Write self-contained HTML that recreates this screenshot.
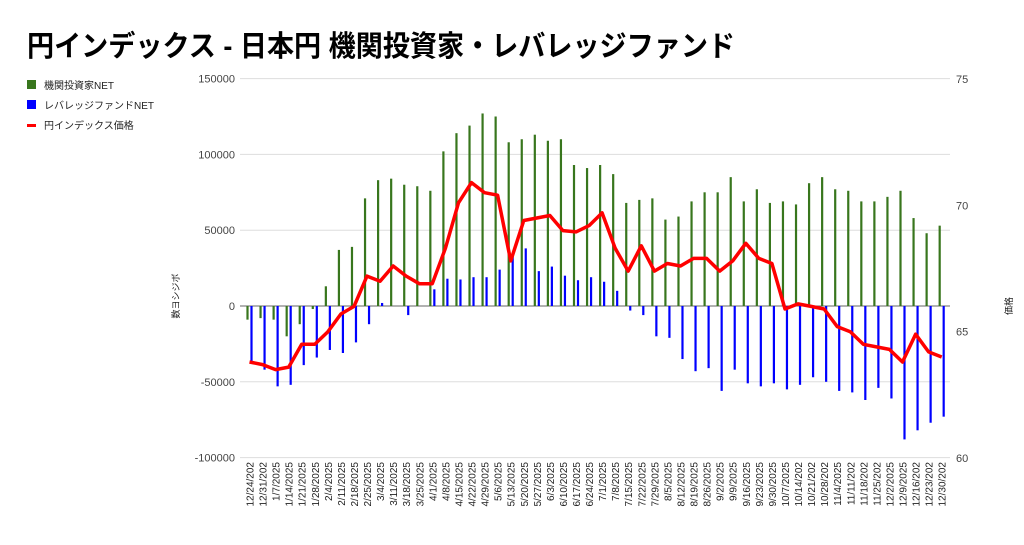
<!DOCTYPE html>
<html><head><meta charset="utf-8"><style>
body{margin:0;background:#fff;width:1024px;height:540px;overflow:hidden}
svg text{font-family:"Liberation Sans","Noto Sans CJK JP",sans-serif}
</style></head><body>
<svg id="c" width="1024" height="540" xmlns="http://www.w3.org/2000/svg">
<text x="27" y="56" font-size="29" font-weight="bold" fill="#000" textLength="708" lengthAdjust="spacingAndGlyphs">円インデックス - 日本円 機関投資家・レバレッジファンド</text>
<rect x="27" y="80" width="9" height="9" fill="#38761d"/>
<text x="44" y="89" font-size="10" fill="#222">機関投資家NET</text>
<rect x="27" y="100" width="9" height="9" fill="#0000ff"/>
<text x="44" y="109" font-size="10" fill="#222">レバレッジファンドNET</text>
<rect x="27" y="124" width="9" height="3" fill="#ff0000"/>
<text x="44" y="129" font-size="10" fill="#222">円インデックス価格</text>
<text transform="translate(179,296) rotate(-90)" font-size="9" fill="#222" text-anchor="middle">数ヨシジボ</text>
<text transform="translate(1012,306) rotate(-90)" font-size="9" fill="#222" text-anchor="middle">価格</text>
<g id="g"></g>
</svg>
<script>
var g=document.getElementById('g'),h='';
function y1(v){return 306-v*0.001516}
function y2(v){return 79+(75-v)*25.27}
[150000,100000,50000,0,-50000,-100000].forEach(function(v){var y=y1(v);
h+='<line x1="240" x2="950" y1="'+y+'" y2="'+y+'" stroke="'+(v==0?'#666':'#ddd')+'" stroke-width="1"/>';
h+='<text x="235" y="'+(y+4)+'" font-size="11" fill="#444" text-anchor="end">'+v+'</text>';});
[75,70,65,60].forEach(function(v){h+='<text x="956" y="'+(y2(v)+4)+'" font-size="11" fill="#444">'+v+'</text>';});
var G=[-9,-8,-9,-20,-12,-2,13,37,39,71,83,84,80,79,76,102,114,119,127,125,108,110,113,109,110,93,91,93,87,68,70,71,57,59,69,75,75,85,69,77,68,69,67,81,85,77,76,69,69,72,76,58,48,53];
var B=[-38,-42,-53,-52,-39,-34,-29,-31,-24,-12,2,0,-6,0,11,18,17.5,19,19,24,33,38,23,26,20,17,19,16,10,-3,-6,-20,-21,-35,-43,-41,-56,-42,-51,-53,-51,-55,-52,-47,-50,-56,-57,-62,-54,-61,-88,-82,-77,-73];
var R=[63.8,63.7,63.5,63.6,64.5,64.5,65.0,65.7,66.0,67.2,67.0,67.6,67.2,66.9,66.9,68.3,70.1,70.9,70.5,70.4,67.8,69.4,69.5,69.6,69.0,68.95,69.2,69.7,68.3,67.4,68.4,67.4,67.7,67.6,67.9,67.9,67.4,67.8,68.5,67.9,67.7,65.9,66.1,66.0,65.9,65.2,65.0,64.5,64.4,64.3,63.8,64.9,64.2,64.0];
var pts=[],d=new Date(2024,11,24);
function bar(bx,v,c){var a=y1(v*1000),b=y1(0);h+='<rect x="'+(bx-1.1)+'" y="'+Math.min(a,b)+'" width="2.2" height="'+Math.abs(a-b)+'" fill="'+c+'"/>';}
for(var i=0;i<54;i++){var x=247.5+i*13.06;
bar(x,G[i],'#38761d');bar(x+4,B[i],'#0000ff');
pts.push((x+2).toFixed(1)+','+y2(R[i]).toFixed(1));
var s=(d.getMonth()+1)+'/'+d.getDate()+'/'+d.getFullYear();s=s.slice(0,9);
h+='<text transform="translate('+(x+6)+',462) rotate(-90)" font-size="10" fill="#222" text-anchor="end">'+s+'</text>';
d.setDate(d.getDate()+7);}
h+='<polyline points="'+pts.join(' ')+'" fill="none" stroke="#ff0000" stroke-width="3.5" stroke-linejoin="round"/>';
g.innerHTML=h;
</script>
</body></html>
